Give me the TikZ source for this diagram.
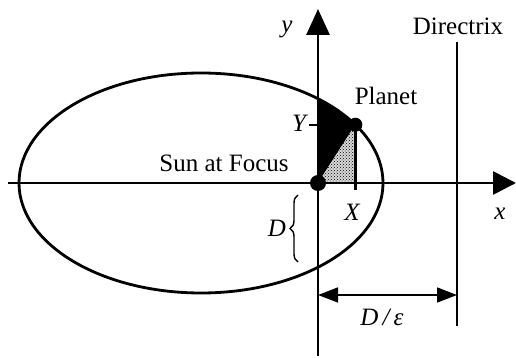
\documentclass[tikz,border=0pt]{standalone}
\usepackage{fontspec}
\setmainfont{Liberation Serif}
\usetikzlibrary{arrows.meta,patterns,decorations.pathreplacing}

\begin{document}
\begin{tikzpicture}[x=1pt,y=1pt,line width=2.8pt,every node/.style={font=\fontsize{25}{30}\selectfont}]
\useasboundingbox (0,0) rectangle (516,358);
% points of the orbit
\coordinate (c) at (201,175);
\coordinate (sun) at (318,175);
\coordinate (cross) at ([shift={(50:182 and 110)}]c);
\coordinate (planet) at ([shift={(32:182 and 110)}]c);
\coordinate (foot) at (planet |- sun);
\coordinate (xstart) at (8,175);
\coordinate (xend) at (516,175);
\coordinate (ystart) at (318,2);
\coordinate (yend) at (318,349);
\coordinate (dtop) at (457,316);
\coordinate (dbot) at (457,32);
\coordinate (dl) at (318,63);
\coordinate (dr) at (457,63);
% swept areas
\fill (sun) -- (cross) arc[start angle=50,end angle=32,x radius=182,y radius=110] -- cycle;
\fill[gray!30] (sun) -- (foot) -- (planet) -- cycle;
\fill[pattern=crosshatch dots] (sun) -- (foot) -- (planet) -- cycle;
% orbit and axes
\draw (c) ellipse[x radius=182,y radius=110];
\draw[-{Triangle[length=23pt,width=23pt]}] (xstart) -- (xend);
\draw[-{Triangle[length=26pt,width=23pt]}] (ystart) -- (yend);
\draw (dtop) -- (dbot);
\draw[line width=1.6pt,{Triangle[length=20pt,width=15pt]}-{Triangle[length=20pt,width=15pt]}] (dl) -- (dr);
\draw (planet) -- ([yshift=-7pt]foot);
\draw[line width=2pt] (planet -| sun) -- ++(-9,0);
\draw[decorate,decoration={brace,amplitude=8pt},line width=1.4pt] (298,96) -- (298,163);
\fill (sun) circle[radius=8];
\fill (planet) circle[radius=7];
% labels
\node (ylab) at (287,329) {\itshape y};
\node (dirlab) at (458,332) {Directrix};
\node (planetlab) at (386,262) {Planet};
\node (sunlab) at (224,195) {Sun at Focus};
\node (Ylab) at (299,235) {\itshape Y};
\node (Xlab) at (352,146) {\itshape X};
\node (xlab) at (500,144) {\itshape x};
\node (Dlab) at (277,130) {\itshape D};
\node (delab) at (382,41) {\itshape D\,/\,ε};
\end{tikzpicture}
\end{document}
